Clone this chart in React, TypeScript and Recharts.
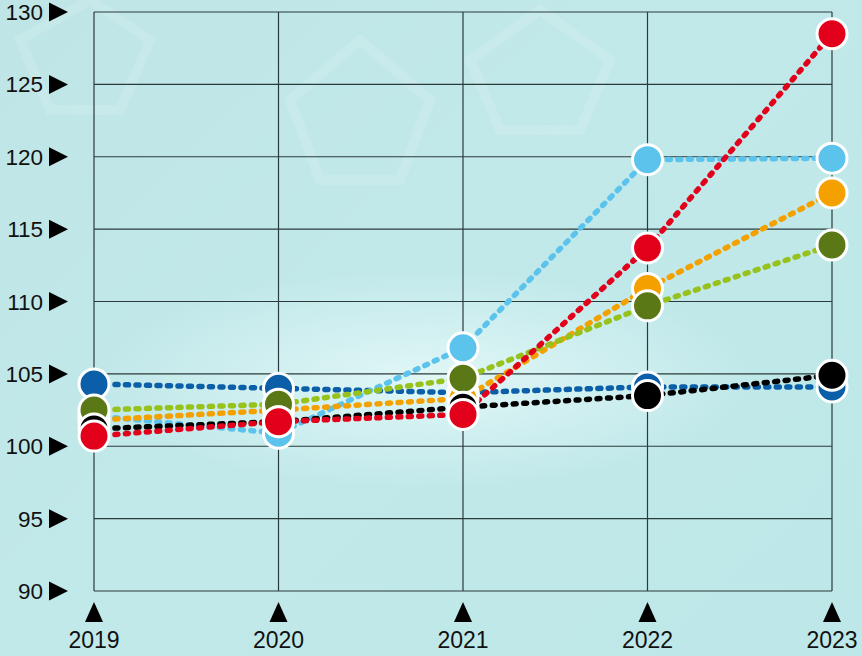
import React from 'react';
import { LineChart, Line, XAxis, YAxis, CartesianGrid } from 'recharts';

const years = ['2019', '2020', '2021', '2022', '2023'];
const darkBlue = [104.3, 104.0, 103.7, 104.1, 104.1];
const lightBlue = [102.1, 100.9, 106.8, 119.8, 119.9];
const orange = [101.8, 102.5, 103.3, 110.9, 117.5];
const green = [102.5, 102.9, 104.7, 109.7, 113.9];
const black = [101.2, 101.7, 102.7, 103.5, 104.9];
const red = [100.7, 101.7, 102.2, 113.7, 128.5];
const yTicks = [90, 95, 100, 105, 110, 115, 120, 125, 130];

const data = years.map((y, i) => ({
  year: y,
  darkBlue: darkBlue[i],
  lightBlue: lightBlue[i],
  orange: orange[i],
  green: green[i],
  black: black[i],
  red: red[i],
}));

const series = [
  { key: 'darkBlue', line: '#0a5fa8', fill: '#0a5fa8' },
  { key: 'lightBlue', line: '#5cc3ec', fill: '#5cc3ec' },
  { key: 'orange', line: '#f4a100', fill: '#f4a100' },
  { key: 'green', line: '#97c11b', fill: '#5a7815' },
  { key: 'black', line: '#000000', fill: '#000000' },
  { key: 'red', line: '#e2001a', fill: '#e2001a' },
];

const FONT = '"Liberation Sans", Arial, Helvetica, sans-serif';

const YTick = (props: any) => {
  const { y, payload } = props;
  return (
    <g>
      <text x={43} y={y} dy={8} textAnchor="end" fontSize={22.5} fontFamily={FONT} fill="#111">
        {payload.value}
      </text>
      <polygon points={`49,${y - 9.5} 49,${y + 9.5} 68,${y}`} fill="#000" />
    </g>
  );
};

const XTick = (props: any) => {
  const { x, payload } = props;
  return (
    <g>
      <polygon points={`${x - 9},622 ${x + 9},622 ${x},602`} fill="#000" />
      <text x={x} y={648} textAnchor="middle" fontSize={23} fontFamily={FONT} fill="#111">
        {payload.value}
      </text>
    </g>
  );
};

const makeDot = (fill: string) => (props: any) => {
  const { cx, cy, index } = props;
  if (cx == null || cy == null) return <g key={index} />;
  return <circle key={index} cx={cx} cy={cy} r={15} fill={fill} stroke="#fff" strokeWidth={3} />;
};

export default function App() {
  return (
    <div
      style={{
        position: 'absolute',
        left: 0,
        top: 0,
        width: 862,
        height: 656,
        overflow: 'hidden',
        background:
          'radial-gradient(ellipse 330px 110px at 430px 380px, rgba(228,248,248,0.9), rgba(228,248,248,0) 100%), linear-gradient(135deg, #bfe5e6 0%, #c2e9ea 45%, #bde7e8 100%)',
      }}
    >
      <svg width={862} height={656} style={{ position: 'absolute', left: 0, top: 0 }}>
        <g fill="none" stroke="rgba(255,255,255,0.12)" strokeWidth={10}>
          <polygon points="290,100 360,40 430,100 400,180 320,180" />
          <polygon points="470,60 540,10 610,60 580,130 500,130" />
          <polygon points="20,40 90,0 150,40 120,110 50,110" />
        </g>
      </svg>
      <div style={{ position: 'absolute', left: 0, top: 0 }}>
        <LineChart width={862} height={656} data={data} margin={{ top: 12, right: 30, left: 0, bottom: 0 }}>
          <CartesianGrid stroke="#2b3a3a" strokeWidth={1.2} />
          <XAxis
            dataKey="year"
            axisLine={false}
            tickLine={false}
            height={65}
            tick={<XTick />}
            interval={0}
          />
          <YAxis
            domain={[90, 130]}
            ticks={yTicks}
            axisLine={false}
            tickLine={false}
            width={94}
            tick={<YTick />}
            interval={0}
          />
          {series.map((s) => (
            <Line
              key={s.key}
              dataKey={s.key}
              type="linear"
              stroke={s.line}
              strokeWidth={5.5}
              strokeLinecap="round"
              strokeDasharray="3 7.5"
              dot={makeDot(s.fill)}
              activeDot={false}
              isAnimationActive={false}
            />
          ))}
        </LineChart>
      </div>
    </div>
  );
}
